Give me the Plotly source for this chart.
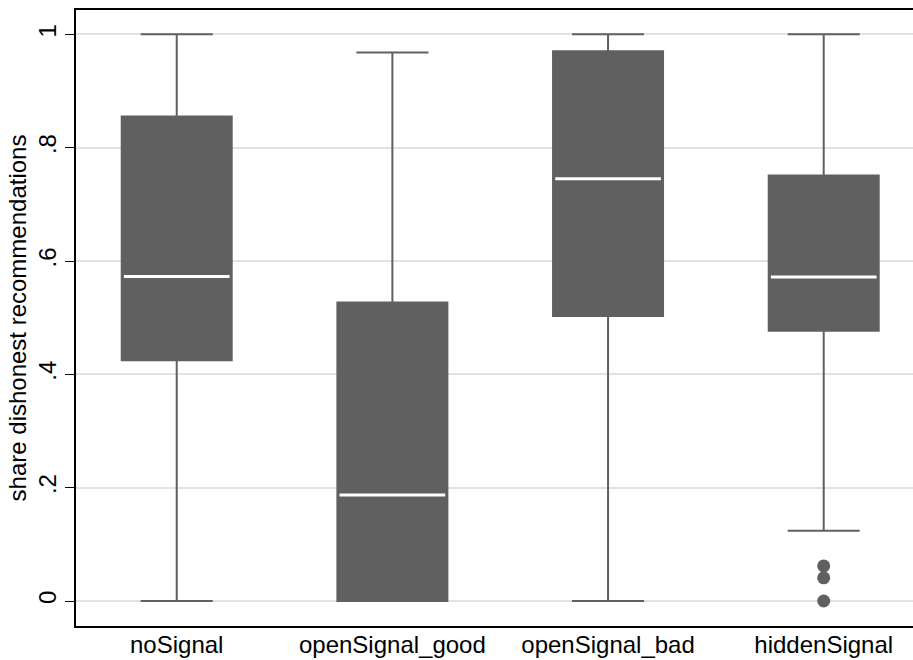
import plotly.graph_objects as go

categories = ["noSignal", "openSignal_good", "openSignal_bad", "hiddenSignal"]
positions = [1, 2, 3, 4]
q1 = [0.425, 0.0, 0.503, 0.477]
median = [0.5725, 0.187, 0.745, 0.572]
q3 = [0.855, 0.5266, 0.970, 0.751]
lower_whisker = [0.0, 0.0, 0.0, 0.124]
upper_whisker = [1.0, 0.968, 1.0, 1.0]
outlier_x = [4, 4, 4]
outlier_y = [0.062, 0.041, 0.0]
ytick_vals = [0, 0.2, 0.4, 0.6, 0.8, 1.0]
ytick_text = ["0", ".2", ".4", ".6", ".8", "1"]

GRAY = "#606060"
BOX_W = 0.51

fig = go.Figure()
fig.add_trace(go.Box(
    x=positions, q1=q1, median=median, q3=q3,
    lowerfence=lower_whisker, upperfence=upper_whisker,
    width=BOX_W, whiskerwidth=0.655,
    fillcolor=GRAY, line=dict(color=GRAY, width=2),
    boxpoints=False, hoverinfo="skip", showlegend=False,
))
# white median lines
mx, my = [], []
for p, m in zip(positions, median):
    mx += [p - BOX_W / 2 + 0.01, p + BOX_W / 2 - 0.01, None]
    my += [m, m, None]
fig.add_trace(go.Scatter(x=mx, y=my, mode="lines",
                         line=dict(color="white", width=3),
                         showlegend=False, hoverinfo="skip"))
fig.add_trace(go.Scatter(x=outlier_x, y=outlier_y, mode="markers",
                         marker=dict(color=GRAY, size=13),
                         showlegend=False, hoverinfo="skip"))

font = dict(family="Liberation Sans, Arial, sans-serif", size=24, color="black")
fig.update_layout(
    width=913, height=660,
    margin=dict(l=76, r=0, t=10, b=34),
    paper_bgcolor="white", plot_bgcolor="white",
    font=font,
    xaxis=dict(range=[0.533, 4.414], tickvals=positions, ticktext=categories,
               showgrid=False, zeroline=False, ticks="", automargin=False,
               ticklabelstandoff=-4,
               showline=True, linecolor="black", linewidth=1.5, mirror=True,
               tickfont=dict(size=24)),
    yaxis=dict(range=[-0.0441, 1.043], tickvals=ytick_vals, ticktext=ytick_text,
               tickangle=-90, ticks="outside", ticklen=9, tickcolor="black",
               tickwidth=1.2, automargin=False,
               showgrid=True, gridcolor="#e2e2e2", gridwidth=1.5, zeroline=False,
               showline=True, linecolor="black", linewidth=1.5,
               tickfont=dict(size=24),
               title=dict(text="share dishonest recommendations",
                          font=dict(size=24), standoff=0)),
)
fig.write_html("out.html", config={"displayModeBar": False},
               post_script="document.body.style.margin='0';document.body.style.overflow='hidden';")
